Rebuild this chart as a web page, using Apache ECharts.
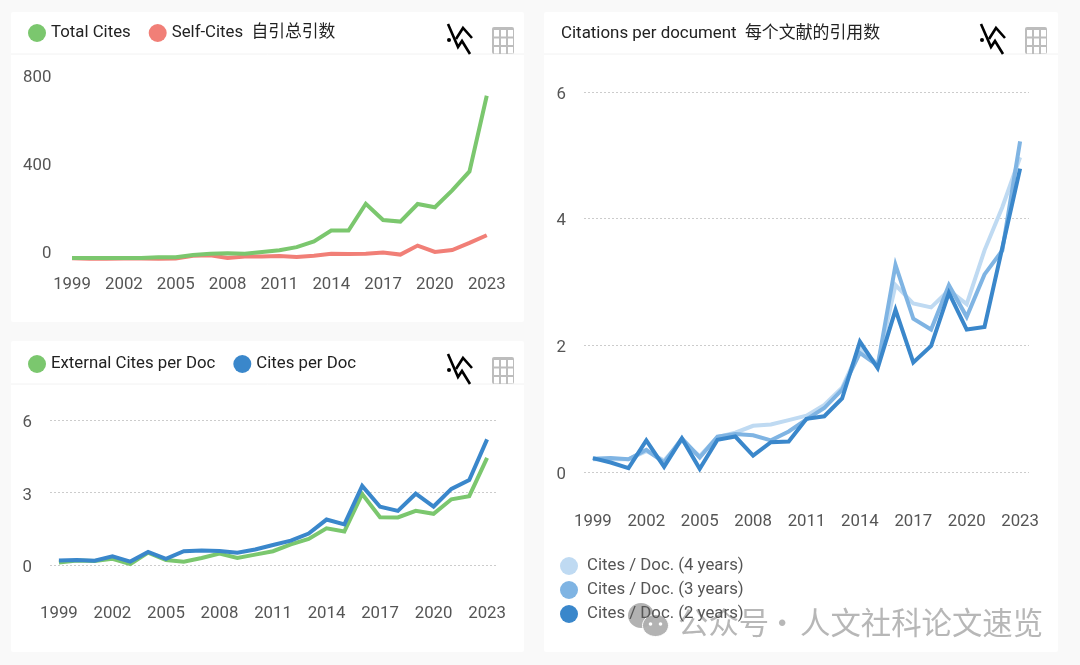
<!DOCTYPE html>
<html>
<head>
<meta charset="utf-8">
<title>Citations</title>
<script src="https://cdn.jsdelivr.net/npm/echarts@6/dist/echarts.min.js"></script>
<style>
html, body { margin: 0; padding: 0; background: #f9f9f9; }
#main { width: 1080px; height: 665px; }
</style>
</head>
<body>
<div id="main"></div>
<script>
var years = ['1999','2000','2001','2002','2003','2004','2005','2006','2007','2008','2009','2010','2011','2012','2013','2014','2015','2016','2017','2018','2019','2020','2021','2022','2023'];

var totalCites = [5,5,4,5,4,8,8,18,24,26,24,32,40,54,80,129,129,251,177,170,250,235,312,398,742];
var selfCites = [3,1,1,2,2,1,2,15,17,5,11,11,14,9,15,24,23,24,30,20,61,32,41,73,108];

var externalPerDoc = [.1,.19,.17,.26,.04,.51,.21,.14,.29,.47,.29,.43,.57,.85,1.08,1.52,1.39,2.94,1.98,1.97,2.24,2.12,2.72,2.85,4.43];
var citesPerDoc = [.19,.21,.18,.36,.14,.54,.25,.57,.6,.58,.51,.64,.83,1.01,1.3,1.88,1.68,3.27,2.41,2.24,2.95,2.42,3.15,3.52,5.2];

var cites4y = [.2,.2,.2,.33,.18,.5,.25,.55,.62,.73,.75,.82,.89,1.06,1.33,1.95,1.7,2.95,2.66,2.6,2.87,2.65,3.5,4.18,4.97];
var cites3y = [.21,.22,.2,.35,.15,.53,.23,.56,.6,.58,.5,.64,.83,1.01,1.3,1.88,1.68,3.27,2.42,2.25,2.95,2.45,3.12,3.5,5.22];
var cites2y = [.22,.15,.06,.5,.08,.53,.05,.51,.56,.26,.47,.48,.84,.88,1.16,2.06,1.64,2.56,1.73,1.99,2.83,2.25,2.29,3.54,4.79];

var FONT = 'Roboto, "Noto Sans CJK SC", sans-serif';
var GREEN = '#7bc76e', RED = '#f17f77', BLUE = '#3a87cb', MID = '#7fb4e3', LIGHT = '#bfdaf2';

function xAxis(idx, margin) {
  return {
    type: 'category', gridIndex: idx, data: years,
    axisLine: {show: false}, axisTick: {show: false},
    axisLabel: {interval: 2, margin: margin, color: '#555', fontSize: 16.8, fontFamily: FONT}
  };
}

// the source labels sit off their ticks, align + lineHeight nudges them
function yAxis(idx, max, interval, margin, dotted, align, lineHeight) {
  return {
    type: 'value', gridIndex: idx, min: 0, max: max, interval: interval,
    axisLine: {show: false}, axisTick: {show: false},
    axisLabel: {margin: margin, color: '#555', fontSize: 16.8, fontFamily: FONT, verticalAlign: align, lineHeight: lineHeight},
    splitLine: {show: dotted, lineStyle: {color: '#ccc', type: [2, 2], width: 1}}
  };
}

function line(name, idx, values, color) {
  return {
    name: name, type: 'line', xAxisIndex: idx, yAxisIndex: idx, data: values,
    symbol: 'none', silent: true, animation: false,
    lineStyle: {color: color, width: 4, cap: 'butt', join: 'miter'},
    itemStyle: {color: color}
  };
}

function legend(left, top, names, orient, gap, color, textPadding) {
  return {
    left: left, top: top, orient: orient, data: names, icon: 'circle', padding: 0,
    itemWidth: 18, itemHeight: 18, itemGap: gap, selectedMode: false,
    textStyle: {color: color, fontSize: 16.8, fontFamily: FONT, padding: textPadding}
  };
}

function panel(x, y, w, h, headerY) {
  return [
    {type: 'rect', z: -2, shape: {x: x, y: y, width: w, height: h, r: 2}, style: {fill: '#fff'}},
    {type: 'line', z: -1, shape: {x1: x, y1: headerY, x2: x + w, y2: headerY}, style: {stroke: '#f2f2f2', lineWidth: 1}}
  ];
}

// zigzag + grid buttons in the panel header
function icons(x, y) {
  var cells = [];
  for (var r = 0; r < 3; r++) {
    for (var c = 0; c < 3; c++) {
      cells.push({type: 'rect', shape: {x: 47 + c * 7, y: 6 + r * 8.5, width: 5, height: 6.5}, style: {fill: '#fff'}});
    }
  }
  return {
    type: 'group', x: x, y: y, z: 5,
    children: [
      {type: 'polyline', shape: {points: [[1, 0], [11, 23], [15, 17], [23, 30]]}, style: {stroke: '#000', lineWidth: 2.6, fill: null}},
      {type: 'polyline', shape: {points: [[9, 15], [16, 4], [25, 14]]}, style: {stroke: '#000', lineWidth: 2.6, fill: null}},
      {type: 'circle', shape: {cx: 2, cy: 16, r: 2}, style: {fill: '#000'}},
      {type: 'rect', shape: {x: 45, y: 3, width: 22, height: 27, r: 2}, style: {fill: '#bdbdbd'}}
    ].concat(cells)
  };
}

var WM_FONT = '30.4px "Noto Sans CJK SC"', WM_FILL = 'rgba(165,165,165,.8)';
var watermark = {
  type: 'group', x: 628, y: 603, z: 20, silent: true,
  children: [
    {type: 'ellipse', shape: {cx: 13, cy: 12.5, rx: 13, ry: 12.5}, style: {fill: 'rgba(165,165,165,.85)'}},
    {type: 'ellipse', shape: {cx: 27.5, cy: 22.5, rx: 13, ry: 11}, style: {fill: 'rgba(175,175,175,.95)', stroke: '#fff', lineWidth: 1}},
    {type: 'circle', shape: {cx: 22.5, cy: 21, r: 1.8}, style: {fill: '#fff'}},
    {type: 'circle', shape: {cx: 32.5, cy: 21, r: 1.8}, style: {fill: '#fff'}},
    {type: 'text', style: {x: 50, y: 19, text: '公众号', fill: WM_FILL, font: WM_FONT, verticalAlign: 'middle'}},
    {type: 'text', style: {x: 139, y: 19, text: '·', fill: WM_FILL, font: WM_FONT, verticalAlign: 'middle'}},
    {type: 'text', style: {x: 172, y: 19, text: '人文社科论文速览', fill: WM_FILL, font: WM_FONT, verticalAlign: 'middle'}}
  ]
};

var chart = echarts.init(document.getElementById('main'), null, {renderer: 'canvas'});
chart.setOption({
  animation: false,
  backgroundColor: '#f9f9f9',
  title: {
    text: 'Citations per document  每个文献的引用数', left: 561, top: 25, padding: 0,
    textStyle: {color: '#222', fontSize: 16.9, fontWeight: 'normal', fontFamily: FONT}
  },
  legend: [
    legend(28, 24, ['Total Cites', 'Self-Cites  自引总引数'], 'horizontal', 18, '#222', [3, 0, 0, 0]),
    legend(28, 355, ['External Cites per Doc', 'Cites per Doc'], 'horizontal', 18, '#222', [3, 0, 0, 0]),
    legend(560, 557, ['Cites / Doc. (4 years)', 'Cites / Doc. (3 years)', 'Cites / Doc. (2 years)'], 'vertical', 6, '#555', [2, 0, 0, 4])
  ],
  grid: [
    {left: 63.4, width: 432, top: 83, height: 176},
    {left: 50, width: 446, top: 420, height: 145},
    {left: 584, width: 445, top: 92, height: 380}
  ],
  xAxis: [xAxis(0, 17.5), xAxis(1, 40.5), xAxis(2, 41.5)],
  yAxis: [
    yAxis(0, 800, 400, 12, false, 'bottom', 10),
    yAxis(1, 6, 3, 18, true, 'top', 6),
    yAxis(2, 6, 2, 18, true, 'top', 5)
  ],
  series: [
    line('Self-Cites  自引总引数', 0, selfCites, RED),
    line('Total Cites', 0, totalCites, GREEN),
    line('External Cites per Doc', 1, externalPerDoc, GREEN),
    line('Cites per Doc', 1, citesPerDoc, BLUE),
    line('Cites / Doc. (4 years)', 2, cites4y, LIGHT),
    line('Cites / Doc. (3 years)', 2, cites3y, MID),
    line('Cites / Doc. (2 years)', 2, cites2y, BLUE)
  ],
  graphic: panel(11, 12, 513, 310, 54)
    .concat(panel(11, 341, 513, 311, 384))
    .concat(panel(544, 12, 514, 640, 54))
    .concat([icons(447, 24), icons(447, 354), icons(980, 24), watermark])
});
</script>
</body>
</html>
